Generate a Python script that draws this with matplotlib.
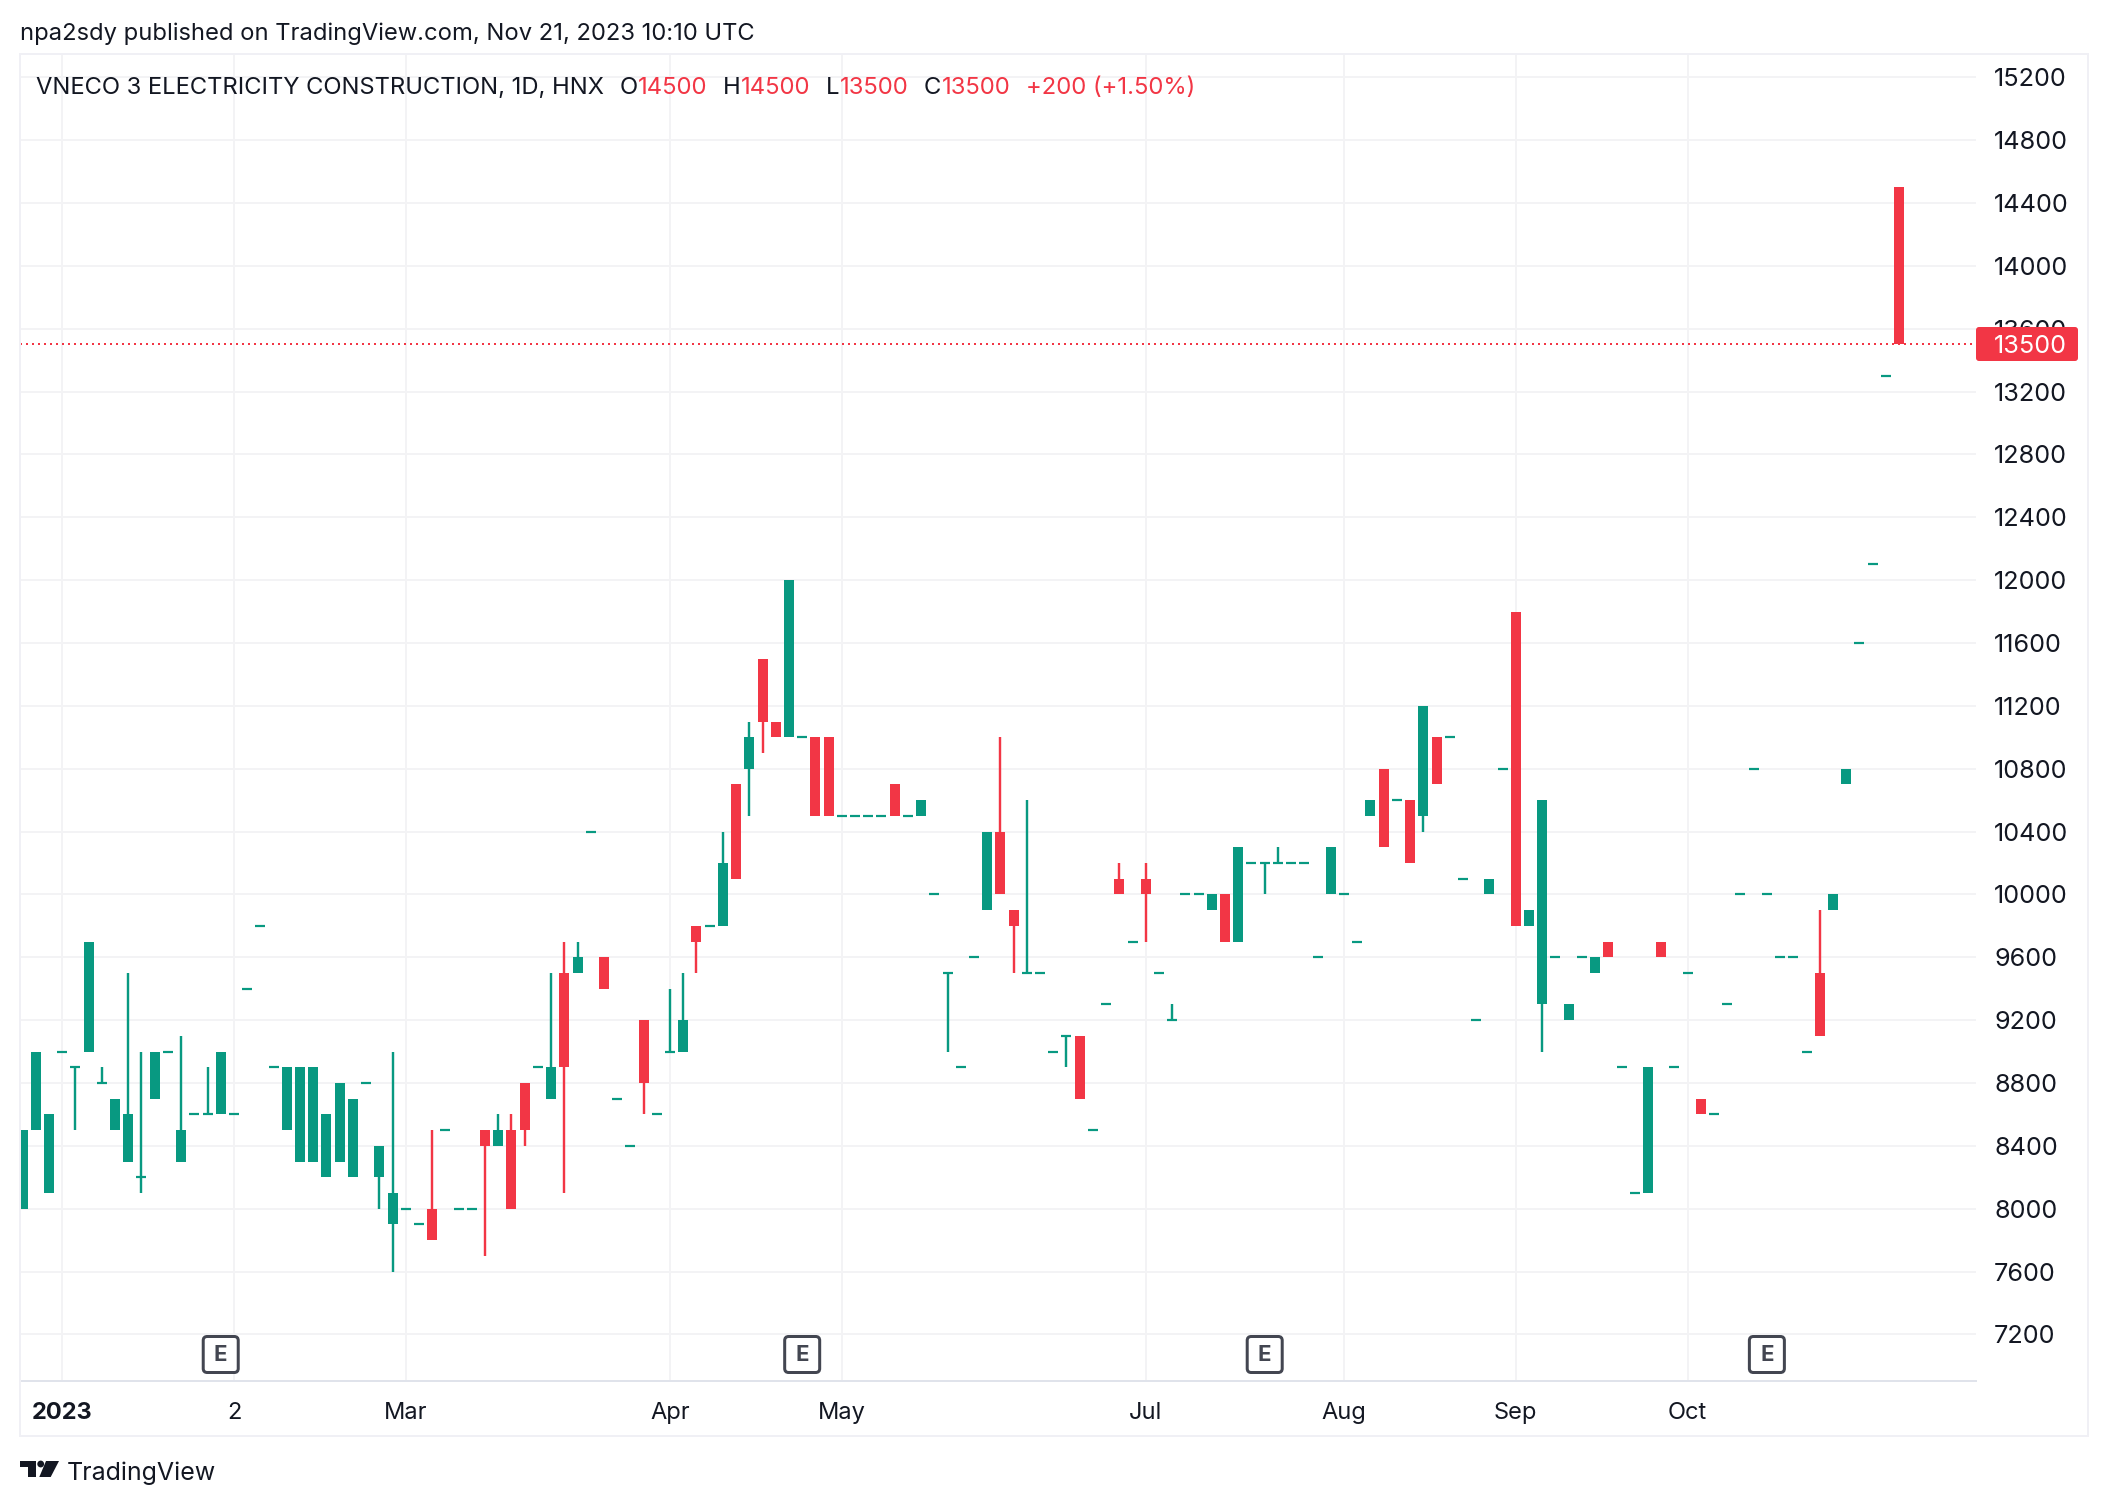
import matplotlib
matplotlib.use("Agg")
import matplotlib.pyplot as plt
from matplotlib.patches import Rectangle, FancyBboxPatch, Circle, Polygon

plt.rcParams['font.family'] = ['Inter', 'DejaVu Sans']

# daily candles, index 0 = first bar of the view
opens = [8000,8500,8100,9000,8900,9000,8800,8500,8300,8200,8700,9000,8300,8600,8600,8600,8600,9400,9800,8900,
         8500,8300,8300,8200,8300,8200,8800,8200,7900,8000,7900,8000,8500,8000,8000,8500,8400,8500,8800,8900,
         8700,9500,9500,10400,9600,8700,8400,9200,8600,9000,9000,9800,9800,9800,10700,10800,11500,11100,11000,11000,
         11000,11000,10500,10500,10500,10500,10700,10500,10500,10000,9500,8900,9600,9900,10400,9900,9500,9500,9000,9100,
         9100,8500,9300,10100,9700,10100,9500,9200,10000,10000,9900,10000,9700,10200,10200,10200,10200,10200,9600,10000,
         10000,9700,10500,10800,10600,10600,10500,11000,11000,10100,9200,10000,10800,11800,9800,9300,9600,9200,9600,9500,
         9700,8900,8100,8100,9700,8900,9500,8700,8600,9300,10000,10800,10000,9600,9600,9000,9500,9900,10700,11600,
         12100,13300,14500]
highs = [8500,9000,8600,9000,8900,9700,8900,8700,9500,9000,9000,9000,9100,8600,8900,9000,8600,9400,9800,8900,
         8900,8900,8900,8600,8800,8700,8800,8400,9000,8000,7900,8500,8500,8000,8000,8500,8600,8600,8800,8900,
         9500,9700,9700,10400,9600,8700,8400,9200,8600,9400,9500,9800,9800,10400,10700,11100,11500,11100,12000,11000,
         11000,11000,10500,10500,10500,10500,10700,10500,10600,10000,9500,8900,9600,10400,11000,9900,10600,9500,9000,9100,
         9100,8500,9300,10200,9700,10200,9500,9300,10000,10000,10000,10000,10300,10200,10200,10300,10200,10200,9600,10300,
         10000,9700,10600,10800,10600,10600,11200,11000,11000,10100,9200,10100,10800,11800,9900,10600,9600,9300,9600,9600,
         9700,8900,8100,8900,9700,8900,9500,8700,8600,9300,10000,10800,10000,9600,9600,9000,9900,10000,10800,11600,
         12100,13300,14500]
lows = [8000,8500,8100,9000,8500,9000,8800,8500,8300,8100,8700,9000,8300,8600,8600,8600,8600,9400,9800,8900,
        8500,8300,8300,8200,8300,8200,8800,8000,7600,8000,7900,7800,8500,8000,8000,7700,8400,8000,8400,8900,
        8700,8100,9500,10400,9400,8700,8400,8600,8600,9000,9000,9500,9800,9800,10100,10500,10900,11000,11000,11000,
        10500,10500,10500,10500,10500,10500,10500,10500,10500,10000,9000,8900,9600,9900,10000,9500,9500,9500,9000,8900,
        8700,8500,9300,10000,9700,9700,9500,9200,10000,10000,9900,9700,9700,10200,10000,10200,10200,10200,9600,10000,
        10000,9700,10500,10300,10600,10200,10400,10700,11000,10100,9200,10000,10800,9800,9800,9000,9600,9200,9600,9500,
        9600,8900,8100,8100,9600,8900,9500,8600,8600,9300,10000,10800,10000,9600,9600,9000,9100,9900,10700,11600,
        12100,13300,13500]
closes = [8500,9000,8600,9000,8900,9700,8800,8700,8600,8200,9000,9000,8500,8600,8600,9000,8600,9400,9800,8900,
          8900,8900,8900,8600,8800,8700,8800,8400,8100,8000,7900,7800,8500,8000,8000,8400,8500,8000,8500,8900,
          8900,8900,9600,10400,9400,8700,8400,8800,8600,9000,9200,9700,9800,10200,10100,11000,11100,11000,12000,11000,
          10500,10500,10500,10500,10500,10500,10500,10500,10600,10000,9500,8900,9600,10400,10000,9800,9500,9500,9000,9100,
          8700,8500,9300,10000,9700,10000,9500,9200,10000,10000,10000,9700,10300,10200,10200,10200,10200,10200,9600,10300,
          10000,9700,10600,10300,10600,10200,11200,10700,11000,10100,9200,10100,10800,9800,9900,10600,9600,9300,9600,9600,
          9600,8900,8100,8900,9600,8900,9500,8600,8600,9300,10000,10800,10000,9600,9600,9000,9100,10000,10800,11600,
          12100,13300,13500]

price_ticks = list(range(7200, 15201, 400))
time_idx = [3, 16, 29, 49, 62, 85, 100, 113, 126]
time_labels = ['2023', '2', 'Mar', 'Apr', 'May', 'Jul', 'Aug', 'Sep', 'Oct']
earnings_idx = [15, 59, 94, 132]

GREEN = '#089981'
RED = '#F23645'
TEXT = '#131722'
GRID = '#f3f3f5'
BORDER = '#f0f0f5'
W, H = 2108, 1506
X0, STEP = 22.5, 13.215
PX = 0.72  # 1 px in points at dpi 100

fig = plt.figure(figsize=(W / 100, H / 100), dpi=100, facecolor='white')
ax = fig.add_axes([20 / W, 1 - 1381 / H, (1976 - 20) / W, (1381 - 54) / H])
ax.set_xlim((20 - X0) / STEP, (1976 - X0) / STEP)
ax.set_ylim(6904, 15348)
ax.set_axisbelow(True)
ax.grid(True, color=GRID, lw=2 * PX)
for s in ['top', 'left', 'right']:
    ax.spines[s].set_visible(False)
ax.spines['bottom'].set_color('#e0e3eb')
ax.spines['bottom'].set_linewidth(2 * PX)

ax.yaxis.tick_right()
ax.set_yticks(price_ticks, [str(p) for p in price_ticks])
ax.set_xticks(time_idx, time_labels)
ax.tick_params(axis='y', length=0, pad=13, labelsize=18.2, labelcolor=TEXT)
ax.tick_params(axis='x', length=0, pad=15, labelsize=17, labelcolor=TEXT)
ax.get_xticklabels()[0].set_fontweight('bold')

body_w = 10 / STEP
for i in range(len(opens)):
    o, h, l, c = opens[i], highs[i], lows[i], closes[i]
    col = RED if c < o else GREEN
    if h > l:
        ax.vlines(i, l, h, color=col, lw=2.4 * PX, zorder=3)
    if o == c:
        ax.hlines(c, i - body_w / 2, i + body_w / 2, color=col, lw=2.2 * PX, zorder=3)
    else:
        ax.bar(i, abs(c - o), bottom=min(o, c), width=body_w, color=col, lw=0, zorder=4)

ax.axhline(closes[-1], color=RED, lw=2 * PX, ls=(0, (1, 2)), zorder=2)

# overlay in pixel coordinates for frame, header, price tag, logo
ov = fig.add_axes([0, 0, 1, 1], zorder=5)
ov.set_xlim(0, W)
ov.set_ylim(H, 0)
ov.axis('off')
ov.patch.set_alpha(0)

ov.add_patch(Rectangle((20, 54), 2088 - 20, 1436 - 54, fc='none', ec=BORDER, lw=2 * PX))

ov.text(20, 33.5, 'npa2sdy published on TradingView.com, Nov 21, 2023 10:10 UTC',
        fontsize=17.1, color=TEXT, va='center')
ov.text(36, 87.5, 'VNECO 3 ELECTRICITY CONSTRUCTION, 1D, HNX', fontsize=17.1, color=TEXT, va='center')
for x, s, col in [(620, 'O', TEXT), (637.5, '14500', RED), (723, 'H', TEXT), (741, '14500', RED),
                  (826, 'L', TEXT), (840, '13500', RED), (924, 'C', TEXT), (942, '13500', RED),
                  (1026, '+200 (+1.50%)', RED)]:
    ov.text(x, 87.5, s, fontsize=17.2, color=col, va='center')

# last price tag
ov.add_patch(FancyBboxPatch((1976, 327), 102, 34, boxstyle='round,pad=0,rounding_size=3', fc=RED, ec='none'))
ov.text(1994, 346, str(closes[-1]), fontsize=18.2, color='white', va='center')

# earnings markers
for i in earnings_idx:
    cx = X0 + STEP * i
    ov.add_patch(FancyBboxPatch((cx - 17.5, 1336.5), 35, 36, boxstyle='round,pad=0,rounding_size=4',
                                fc='white', ec='#434651', lw=3 * PX))
    ov.text(cx, 1355, 'E', fontsize=16, fontweight='bold', color='#434651', ha='center', va='center')

# TradingView logo
ov.add_patch(Polygon([(20, 1461), (36, 1461), (36, 1477), (28, 1477), (28, 1467), (20, 1467)], fc=TEXT, ec='none'))
ov.add_patch(Circle((40.7, 1464), 3.4, fc=TEXT, ec='none'))
ov.add_patch(Polygon([(46, 1461), (59, 1461), (50.7, 1477), (39.3, 1477)], fc=TEXT, ec='none'))
ov.text(67, 1473, 'TradingView', fontsize=18, color=TEXT, va='center')

fig.savefig('out.png', dpi=100, facecolor='white')
